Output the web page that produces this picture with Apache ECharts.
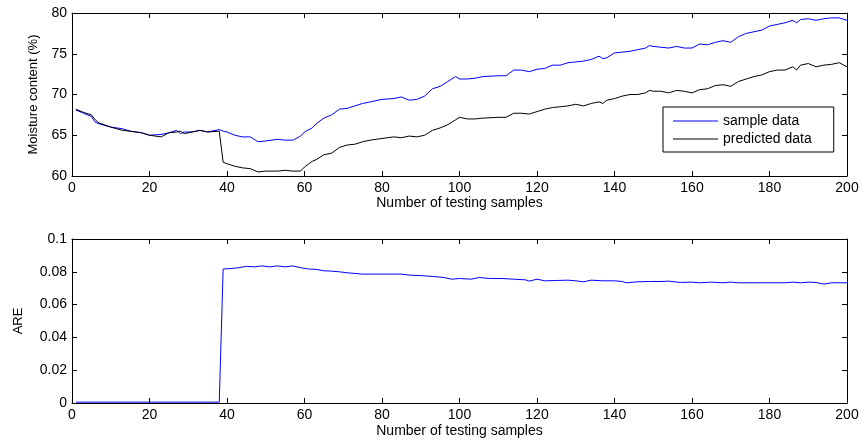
<!DOCTYPE html>
<html>
<head>
<meta charset="utf-8">
<script src="https://cdn.jsdelivr.net/npm/echarts@6/dist/echarts.min.js"></script>
<style>
  html, body { margin: 0; padding: 0; background: #fff; }
  #chart { width: 862px; height: 443px; }
</style>
</head>
<body>
<div id="chart"></div>
<script>
// sample index of each reading in the upper plot
var sampleIdx = [1, 3, 5, 6, 7, 10, 13, 15, 18, 20, 23, 25, 27, 28, 29, 31, 33, 35, 38, 39,
  40, 42, 44, 46, 48, 50, 53, 55, 57, 59, 60, 62, 63, 65, 67, 69, 71, 73, 75, 77,
  80, 83, 85, 87, 89, 91, 93, 95, 97, 99, 100, 102, 104, 106, 110, 112, 114, 116, 118, 120,
  122, 124, 126, 128, 130, 132, 134, 136, 137, 138, 140, 142, 144, 146, 148, 149, 150, 152, 154, 156,
  158, 160, 162, 164, 166, 168, 170, 172, 174, 176, 178, 180, 182, 184, 186, 187, 188, 190, 192, 194,
  196, 198, 200];
var sampleData = [68.1, 67.7, 67.3, 66.6, 66.4, 66.0, 65.8, 65.5, 65.3, 65.0, 65.1, 65.3, 65.6, 65.2, 65.4, 65.4, 65.6, 65.4, 65.7, 65.5,
  65.4, 65.0, 64.8, 64.8, 64.2, 64.3, 64.5, 64.4, 64.4, 64.9, 65.4, 65.9, 66.4, 67.1, 67.5, 68.2, 68.3, 68.6, 68.9, 69.1,
  69.4, 69.5, 69.7, 69.3, 69.4, 69.8, 70.7, 71.0, 71.6, 72.2, 71.9, 71.9, 72.0, 72.2, 72.3, 72.3, 73.0, 73.0, 72.8, 73.1,
  73.2, 73.6, 73.6, 73.9, 74.0, 74.1, 74.3, 74.7, 74.4, 74.5, 75.1, 75.2, 75.3, 75.5, 75.7, 76.0, 75.9, 75.8, 75.7, 75.9,
  75.7, 75.7, 76.2, 76.1, 76.4, 76.6, 76.4, 77.1, 77.5, 77.7, 77.9, 78.4, 78.6, 78.8, 79.1, 78.8, 79.2, 79.3, 79.1, 79.3,
  79.4, 79.4, 79.1];
var predictedData = [68.2, 67.8, 67.5, 66.9, 66.5, 66.0, 65.6, 65.5, 65.3, 65.0, 64.8, 65.3, 65.4, 65.5, 65.2, 65.4, 65.6, 65.4, 65.5, 61.7,
  61.5, 61.2, 61.0, 60.9, 60.5, 60.6, 60.6, 60.7, 60.6, 60.6, 61.1, 61.8, 62.0, 62.6, 62.8, 63.5, 63.8, 63.9, 64.2, 64.4,
  64.6, 64.8, 64.7, 64.9, 64.8, 65.0, 65.6, 65.9, 66.3, 66.9, 67.2, 67.0, 67.0, 67.1, 67.2, 67.2, 67.7, 67.7, 67.6, 67.9,
  68.2, 68.4, 68.5, 68.6, 68.8, 68.6, 68.9, 69.1, 68.9, 69.3, 69.5, 69.8, 70.0, 70.0, 70.2, 70.5, 70.4, 70.4, 70.2, 70.5,
  70.4, 70.2, 70.6, 70.7, 71.1, 71.2, 71.0, 71.6, 71.9, 72.2, 72.4, 72.8, 73.0, 73.0, 73.4, 73.0, 73.6, 73.8, 73.4, 73.6,
  73.7, 73.9, 73.4];

// lower plot: average relative error
var areIdx = [1, 38, 39, 41, 43, 45, 47, 49, 51, 53, 55, 57, 59, 61, 63, 65, 67, 69, 71, 73,
  75, 80, 85, 87, 90, 93, 96, 98, 100, 103, 105, 108, 111, 114, 117, 118, 120, 122, 125, 128,
  130, 132, 134, 137, 140, 142, 143, 146, 149, 152, 154, 157, 160, 162, 165, 168, 170, 172, 180, 184,
  186, 188, 190, 192, 194, 196, 200];
var areData = [0.0005, 0.0005, 0.0817, 0.0820, 0.0825, 0.0833, 0.0830, 0.0836, 0.0830, 0.0836, 0.0830, 0.0836, 0.0825, 0.0817, 0.0815, 0.0806, 0.0804, 0.0800, 0.0794, 0.0790,
  0.0786, 0.0786, 0.0786, 0.0780, 0.0777, 0.0772, 0.0765, 0.0755, 0.0759, 0.0755, 0.0765, 0.0759, 0.0759, 0.0755, 0.0751, 0.0743, 0.0755, 0.0745, 0.0747, 0.0749,
  0.0745, 0.0739, 0.0749, 0.0745, 0.0745, 0.0741, 0.0733, 0.0739, 0.0741, 0.0741, 0.0743, 0.0735, 0.0737, 0.0733, 0.0737, 0.0733, 0.0737, 0.0733, 0.0733, 0.0733,
  0.0737, 0.0733, 0.0737, 0.0735, 0.0725, 0.0733, 0.0733];

var xTicks = { min: 0, max: 200, interval: 20 };
var moistureTicks = { min: 60, max: 80, interval: 5 };
var areTicks = { min: 0, max: 0.1, interval: 0.02 };

function pairs(xs, ys) {
  var out = [];
  for (var i = 0; i < xs.length; i++) out.push([xs[i], ys[i]]);
  return out;
}

var font = 'Liberation Sans, Arial, sans-serif';
var black = '#000';

function axis(gridIndex, position, ticks, showLabel, extra) {
  var a = {
    type: 'value',
    gridIndex: gridIndex,
    position: position,
    min: ticks.min,
    max: ticks.max,
    interval: ticks.interval,
    axisLine: { show: true, onZero: false, lineStyle: { color: black, width: 1 } },
    axisTick: { show: true, inside: true, length: 5, lineStyle: { color: black } },
    axisLabel: { show: showLabel, color: black, fontFamily: font, fontSize: 14, margin: 5 },
    splitLine: { show: false }
  };
  for (var k in extra) a[k] = extra[k];
  return a;
}

function xName(gap) {
  return {
    name: 'Number of testing samples',
    nameLocation: 'middle',
    nameGap: gap,
    nameTextStyle: { color: black, fontFamily: font, fontSize: 14 }
  };
}

var chart = echarts.init(document.getElementById('chart'));
chart.setOption({
  animation: false,
  backgroundColor: '#fff',
  grid: [
    { left: 72, right: 15, top: 13, height: 163 },
    { left: 72, right: 15, top: 239, height: 164 }
  ],
  xAxis: [
    axis(0, 'bottom', xTicks, true, xName(19)),
    axis(0, 'top', xTicks, false, {}),
    axis(1, 'bottom', xTicks, true, xName(21)),
    axis(1, 'top', xTicks, false, {})
  ],
  yAxis: [
    axis(0, 'left', moistureTicks, true, {
      name: 'Moisture content (%)', nameLocation: 'middle', nameGap: 32,
      nameTextStyle: { color: black, fontFamily: font, fontSize: 13 }
    }),
    axis(0, 'right', moistureTicks, false, {}),
    axis(1, 'left', areTicks, true, {
      name: 'ARE', nameLocation: 'middle', nameGap: 47,
      nameTextStyle: { color: black, fontFamily: font, fontSize: 13 }
    }),
    axis(1, 'right', areTicks, false, {})
  ],
  legend: {
    data: ['sample data', 'predicted data'],
    orient: 'vertical',
    left: 663,
    top: 107,
    icon: 'rect',
    itemWidth: 45,
    itemHeight: 1,
    itemGap: 4,
    padding: [7, 22, 6, 10],
    backgroundColor: '#fff',
    borderColor: black,
    borderWidth: 1,
    borderRadius: 0,
    textStyle: { color: black, fontFamily: font, fontSize: 14 }
  },
  series: [
    {
      name: 'sample data', type: 'line', xAxisIndex: 0, yAxisIndex: 0,
      data: pairs(sampleIdx, sampleData), showSymbol: false, symbol: 'none',
      color: '#0000ff', lineStyle: { color: '#0000ff', width: 1 }
    },
    {
      name: 'predicted data', type: 'line', xAxisIndex: 0, yAxisIndex: 0,
      data: pairs(sampleIdx, predictedData), showSymbol: false, symbol: 'none',
      color: black, lineStyle: { color: black, width: 1 }
    },
    {
      name: 'ARE', type: 'line', xAxisIndex: 2, yAxisIndex: 2,
      data: pairs(areIdx, areData), showSymbol: false, symbol: 'none',
      color: '#0000ff', lineStyle: { color: '#0000ff', width: 1 }
    }
  ]
});
</script>
</body>
</html>
